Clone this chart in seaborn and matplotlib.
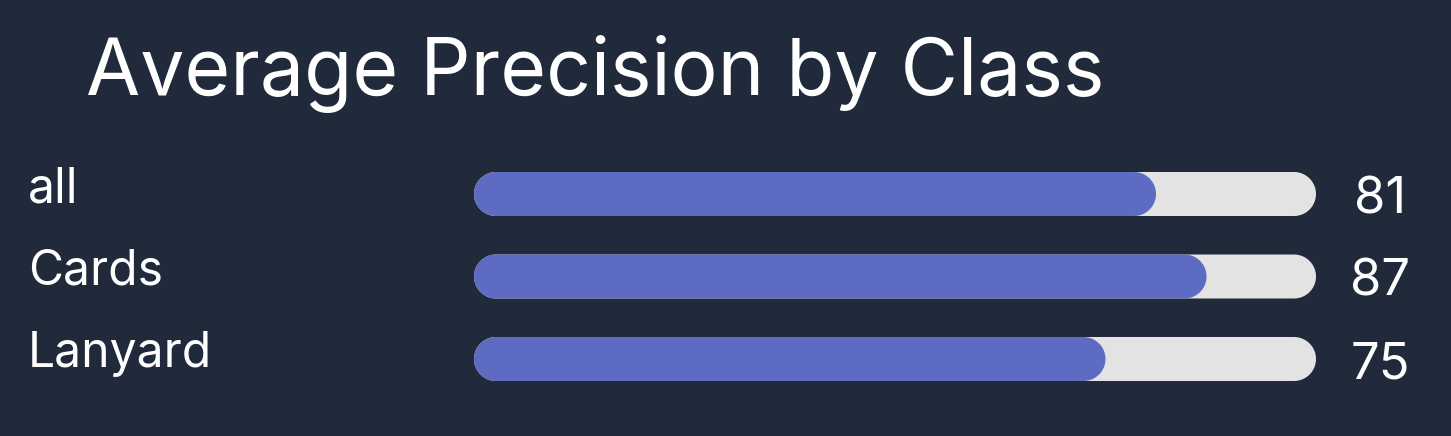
import matplotlib
matplotlib.use("Agg")
import matplotlib.pyplot as plt
import matplotlib.transforms as mtransforms
from matplotlib.patches import Polygon
import numpy as np
import seaborn as sns
import pandas as pd

# Datos
classes = ["all", "Cards", "Lanyard"]
precision = [81, 87, 75]
full_scale = [100, 100, 100]

bg = "#212a3a"
fill_color = "#5e6bc3"
track_color = "#e3e3e3"

sns.set_theme(style="white")
plt.rcParams["font.family"] = ["Inter", "DejaVu Sans"]

W, H = 1451, 436
fig = plt.figure(figsize=(W / 100, H / 100), dpi=100, facecolor=bg)

# Eje de las barras (en pixeles de la figura)
ax_left, ax_width = 474, 842
row_px = 82.5
ax_top = 194 - row_px / 2
ax_h = row_px * 3
ax = fig.add_axes([ax_left / W, (H - ax_top - ax_h) / H, ax_width / W, ax_h / H])
ax.set_facecolor(bg)

df = pd.DataFrame({"cls": classes, "ap": precision, "full": full_scale})
bar_w = 44 / row_px
sns.barplot(data=df, y="cls", x="full", color=track_color, width=bar_w,
            saturation=1, ax=ax)
sns.barplot(data=df, y="cls", x="ap", color=fill_color, width=bar_w,
            saturation=1, ax=ax)
ax.set_xlim(0, 100)
ax.set_ylim(2.5, -0.5)

# Barras con extremos semicirculares
px_x = ax_width / 100
r = (bar_w * row_px / 2) / px_x
t = np.linspace(-np.pi / 2, np.pi / 2, 40)
for p in list(ax.patches):
    x0, y0 = p.get_x(), p.get_y()
    w, h = p.get_width(), p.get_height()
    fc = p.get_facecolor()
    p.remove()
    yc = y0 + h / 2
    right = np.column_stack([x0 + w - r + r * np.cos(t), yc + h / 2 * np.sin(t)])
    left = np.column_stack([x0 + r - r * np.cos(t[::-1]), yc + h / 2 * np.sin(t[::-1])])
    ax.add_patch(Polygon(np.vstack([right, left]), closed=True, fc=fc, ec="none"))
ax.axis("off")

# Etiquetas y valores
blend = mtransforms.blended_transform_factory(fig.transFigure, ax.transData)
lab_tr = mtransforms.offset_copy(blend, fig=fig, x=0, y=-8, units="dots")
val_tr = mtransforms.offset_copy(blend, fig=fig, x=0, y=-19, units="dots")
for i, (c, v) in enumerate(zip(classes, precision)):
    fig.text(28 / W, i, c, transform=lab_tr, color="white", fontsize=34.6,
             ha="left", va="baseline")
    fig.text(1380 / W, i, f"{v}", transform=val_tr, color="white",
             fontsize=36.5, ha="center", va="baseline")

fig.text(86 / W, 1 - 95 / H, "Average Precision by Class", color="white",
         fontsize=56.6, ha="left", va="baseline")

fig.savefig("out.png", dpi=100, facecolor=bg)
